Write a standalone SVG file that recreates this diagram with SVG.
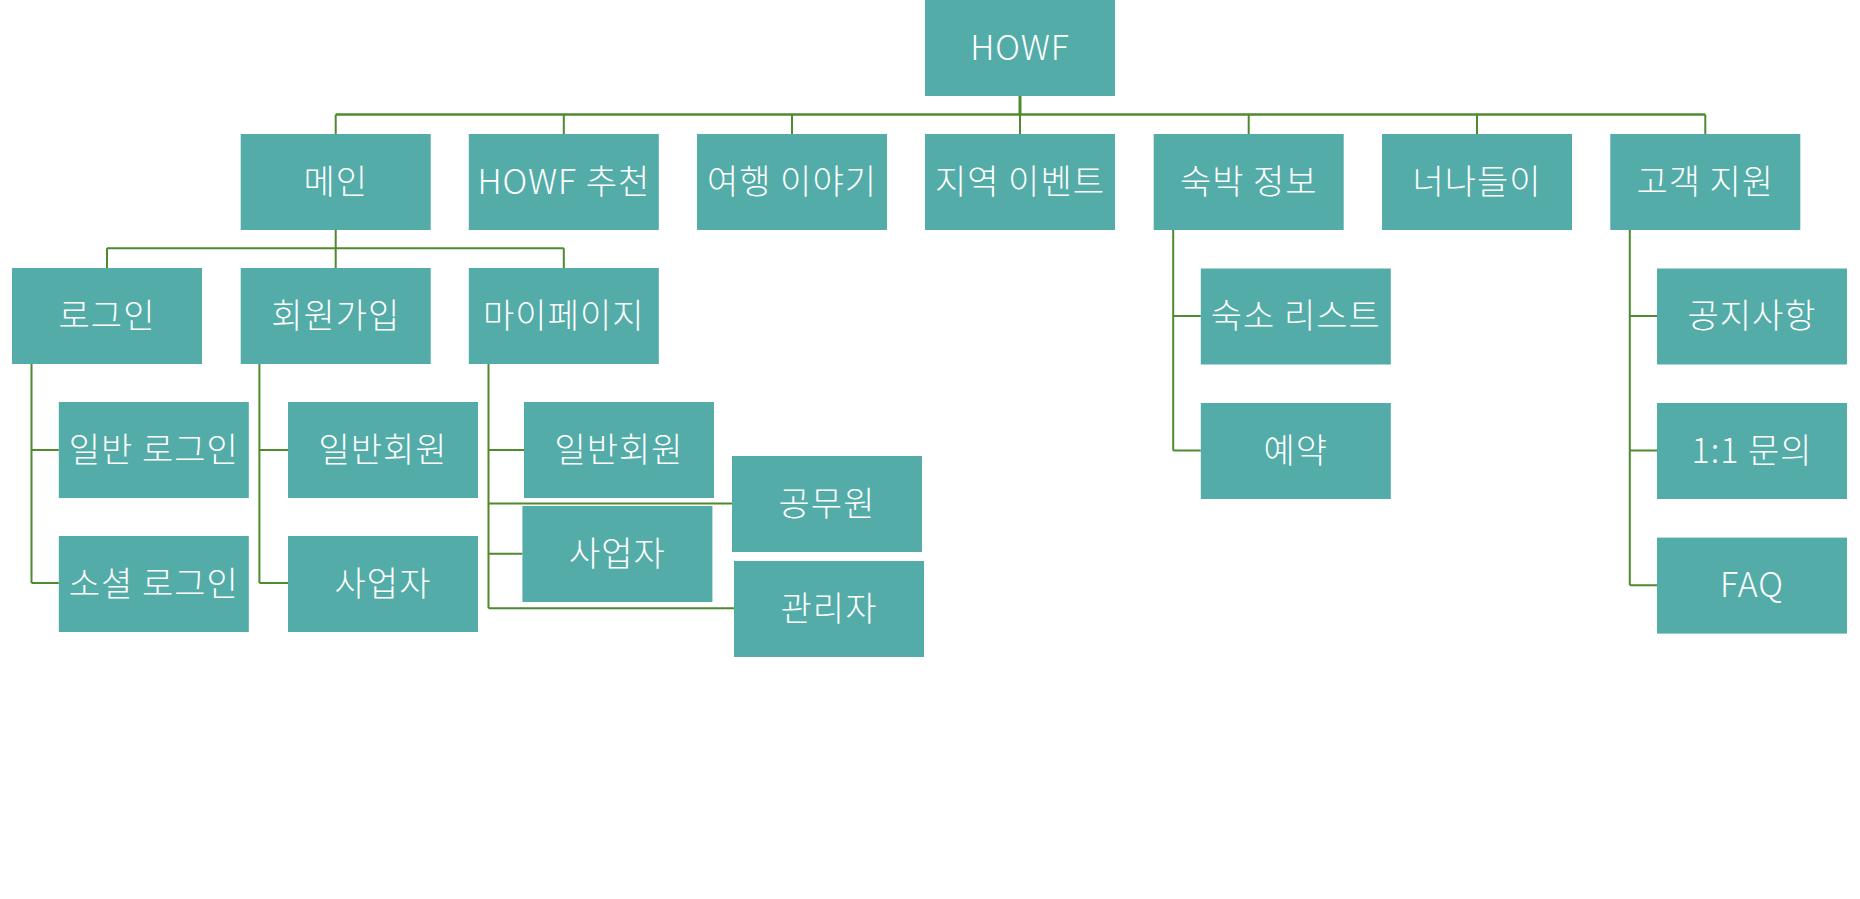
<svg xmlns="http://www.w3.org/2000/svg" width="1860" height="899" viewBox="0 0 1860 899">
<style>
.n rect{fill:#53ACA8;}
.n text{fill:#FFFFFF;font-family:"Noto Sans CJK KR","Noto Sans",sans-serif;font-size:34px;font-weight:300;letter-spacing:1px;text-anchor:middle;dominant-baseline:central;}
.c path{fill:none;stroke:#4E8A2E;stroke-width:2;}
</style>
<rect width="1860" height="899" fill="#FFFFFF"/>
<g class="c" id="connectors">
<path d="M1020 96V114.5" style="stroke-width:3"/>
<path d="M335.7 114.5H1705.3" style="stroke-width:2.5"/>
<path d="M335.7 114.5V134M563.8 114.5V134M792 114.5V134M1020 114.5V134M1248.7 114.5V134M1477 114.5V134M1705.3 114.5V134"/>
<path d="M335.7 230V248.3M107 248.3H563.8M107 248.3V268M335.7 248.3V268M563.8 248.3V268" />
<path d="M31.5 364V583M31.5 450H58.8M31.5 583H58.8"/>
<path d="M259.4 364V583M259.4 450H288M259.4 583H288"/>
<path d="M488.5 364V608.3M488.5 450H524M488.5 503.5H732M488.5 553.7H522.4M488.5 608.3H734"/>
<path d="M1173.2 230V450.5M1173.2 316H1200.8M1173.2 450.5H1200.8"/>
<path d="M1629.8 230V585.3M1629.8 316H1657M1629.8 450.5H1657M1629.8 585.3H1657"/>
</g>
<g class="n" id="n-howf"><rect x="925" y="0" width="190" height="96"/><text x="1020" y="45">HOWF</text></g>
<g class="n" id="n-main"><rect x="240.7" y="134" width="190" height="96"/><text x="335.7" y="179">메인</text></g>
<g class="n" id="n-recommend"><rect x="468.8" y="134" width="190" height="96"/><text x="563.8" y="179">HOWF 추천</text></g>
<g class="n" id="n-story"><rect x="697" y="134" width="190" height="96"/><text x="792" y="179">여행 이야기</text></g>
<g class="n" id="n-event"><rect x="925" y="134" width="190" height="96"/><text x="1020" y="179">지역 이벤트</text></g>
<g class="n" id="n-stay"><rect x="1153.7" y="134" width="190" height="96"/><text x="1248.7" y="179">숙박 정보</text></g>
<g class="n" id="n-nanadeuri"><rect x="1382" y="134" width="190" height="96"/><text x="1477" y="179">너나들이</text></g>
<g class="n" id="n-support"><rect x="1610.3" y="134" width="190" height="96"/><text x="1705.3" y="179">고객 지원</text></g>
<g class="n" id="n-login"><rect x="12" y="268" width="190" height="96"/><text x="107" y="313">로그인</text></g>
<g class="n" id="n-signup"><rect x="240.7" y="268" width="190" height="96"/><text x="335.7" y="313">회원가입</text></g>
<g class="n" id="n-mypage"><rect x="468.8" y="268" width="190" height="96"/><text x="563.8" y="313">마이페이지</text></g>
<g class="n" id="n-login-normal"><rect x="58.8" y="402" width="190" height="96"/><text x="153.8" y="447">일반 로그인</text></g>
<g class="n" id="n-login-social"><rect x="58.8" y="536" width="190" height="96"/><text x="153.8" y="581">소셜 로그인</text></g>
<g class="n" id="n-signup-member"><rect x="288" y="402" width="190" height="96"/><text x="383" y="447">일반회원</text></g>
<g class="n" id="n-signup-biz"><rect x="288" y="536" width="190" height="96"/><text x="383" y="581">사업자</text></g>
<g class="n" id="n-my-member"><rect x="524" y="402" width="190" height="96"/><text x="619" y="447">일반회원</text></g>
<g class="n" id="n-my-official"><rect x="732" y="456" width="190" height="96"/><text x="827" y="501">공무원</text></g>
<g class="n" id="n-my-biz"><rect x="522.4" y="506" width="190" height="96"/><text x="617.4" y="551">사업자</text></g>
<g class="n" id="n-my-admin"><rect x="734" y="561" width="190" height="96"/><text x="829" y="606">관리자</text></g>
<g class="n" id="n-stay-list"><rect x="1200.8" y="268.5" width="190" height="96"/><text x="1295.8" y="313.5">숙소 리스트</text></g>
<g class="n" id="n-stay-reserve"><rect x="1200.8" y="403" width="190" height="96"/><text x="1295.8" y="448">예약</text></g>
<g class="n" id="n-notice"><rect x="1657" y="268.5" width="190" height="96"/><text x="1752" y="313.5">공지사항</text></g>
<g class="n" id="n-qna"><rect x="1657" y="403" width="190" height="96"/><text x="1752" y="448">1:1 문의</text></g>
<g class="n" id="n-faq"><rect x="1657" y="537.6" width="190" height="96"/><text x="1752" y="582.6">FAQ</text></g>
</svg>
